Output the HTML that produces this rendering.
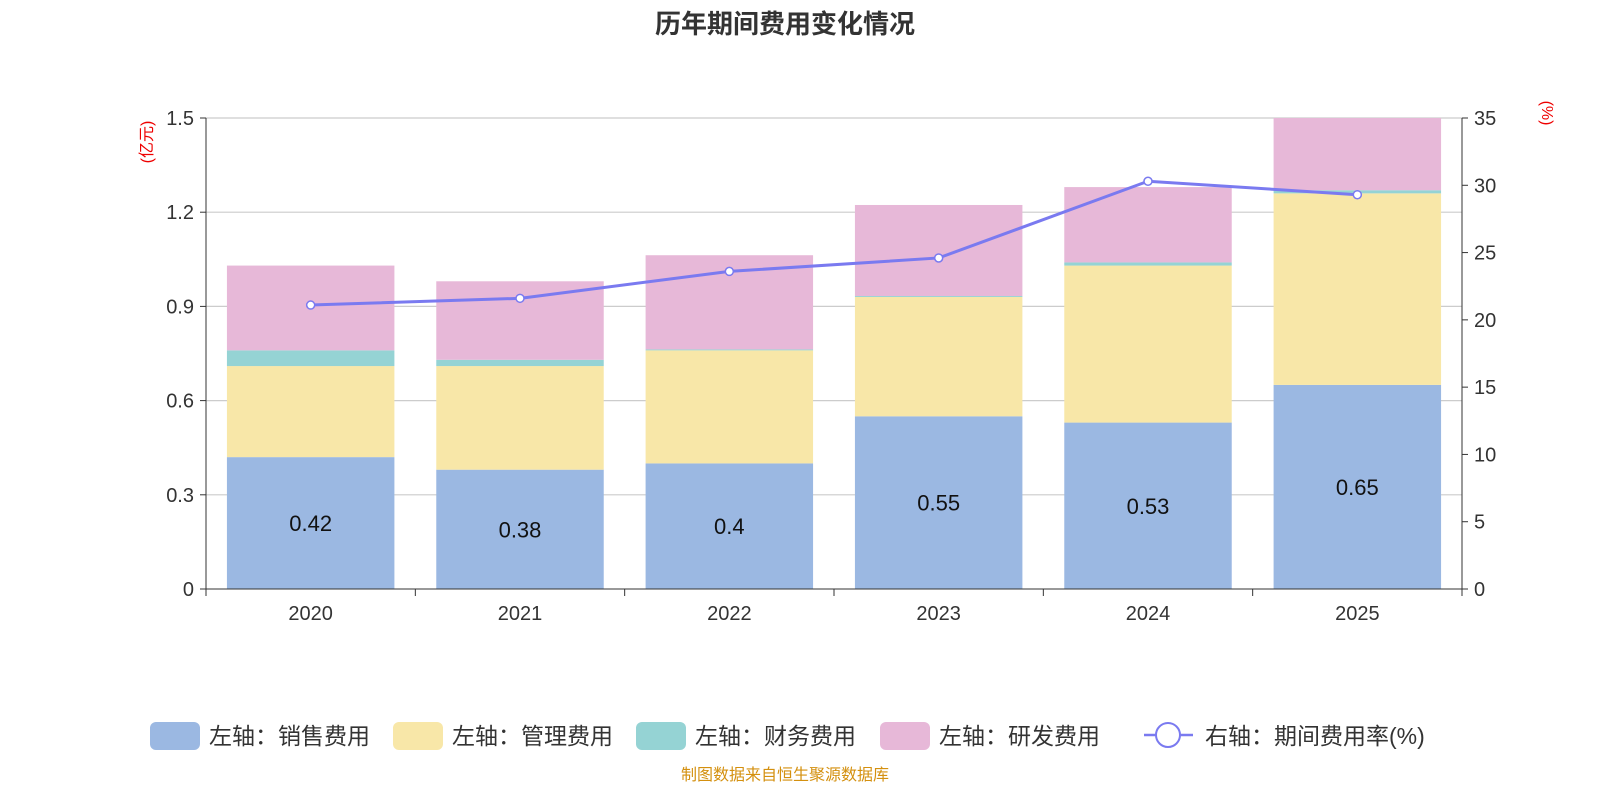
<!DOCTYPE html>
<html><head><meta charset="utf-8"><style>
body{margin:0;background:#fff;}
svg text{font-family:"Liberation Sans","Noto Sans CJK SC",sans-serif;}
</style></head><body>
<svg id="c" width="1600" height="800" xmlns="http://www.w3.org/2000/svg">
<text x="785" y="33" text-anchor="middle" font-size="26" font-weight="bold" fill="#333">历年期间费用变化情况</text>
<text transform="translate(152,142) rotate(-90)" text-anchor="middle" font-size="16" fill="#e00">(亿元)</text>
<text transform="translate(1542,113) rotate(90)" text-anchor="middle" font-size="16" fill="#e00">(%)</text>
<g id="grid"></g><g id="bars"></g><g id="axes"></g><g id="line"></g>
<g id="legend"></g>
<text x="785" y="780" text-anchor="middle" font-size="16" fill="#d4900f">制图数据来自恒生聚源数据库</text>
</svg>
<script>
const categories=['2020','2021','2022','2023','2024','2025'];
const sales=[0.42,0.38,0.40,0.55,0.53,0.65];
const mgmt=[0.29,0.33,0.36,0.38,0.50,0.61];
const fin=[0.05,0.02,0.003,0.003,0.01,0.01];
const rnd=[0.27,0.25,0.30,0.29,0.24,0.23];
const rate=[21.1,21.6,23.6,24.6,30.3,29.3];
const leftTicks=['0','0.3','0.6','0.9','1.2','1.5'];
const rightTicks=['0','5','10','15','20','25','30','35'];
const seriesNames=['左轴：销售费用','左轴：管理费用','左轴：财务费用','左轴：研发费用'];
const colors=['#9bb8e2','#f8e7a8','#95d3d4','#e7b8d8'];
const NS='http://www.w3.org/2000/svg';
const X0=206,X1=1462,Y0=589,Y1=118;
const bw=(X1-X0)/categories.length;
const yL=v=>Y0-(v/1.5)*(Y0-Y1);
const yR=v=>Y0-(v/35)*(Y0-Y1);
const xc=i=>X0+bw*(i+0.5);
function mk(t,a,p){const e=document.createElementNS(NS,t);for(const k in a)e.setAttribute(k,a[k]);p.appendChild(e);return e;}
const grid=document.getElementById('grid'),axes=document.getElementById('axes'),bars=document.getElementById('bars'),line=document.getElementById('line'),leg=document.getElementById('legend');
leftTicks.forEach(t=>{const y=yL(+t);
 if(+t>0){const g=mk('line',{x1:X0,x2:X1,y1:y,y2:y,stroke:'#ccc','stroke-width':1.2},grid);}
 mk('line',{x1:X0-6,x2:X0,y1:y,y2:y,stroke:'#333'},axes);
 const tx=mk('text',{x:X0-12,y:y+7,'text-anchor':'end','font-size':20,fill:'#333'},axes);tx.textContent=t;
 });
rightTicks.forEach(t=>{const y=yR(+t);
 mk('line',{x1:X1,x2:X1+6,y1:y,y2:y,stroke:'#333'},axes);
 const tx=mk('text',{x:X1+12,y:y+7,'font-size':20,fill:'#333'},axes);tx.textContent=t;
 });
mk('line',{x1:X0,x2:X0,y1:Y1,y2:Y0,stroke:'#333'},axes);
mk('line',{x1:X1,x2:X1,y1:Y1,y2:Y0,stroke:'#333'},axes);
mk('line',{x1:X0,x2:X1,y1:Y0,y2:Y0,stroke:'#333'},axes);
for(let i=0;i<=categories.length;i++)mk('line',{x1:X0+bw*i,x2:X0+bw*i,y1:Y0,y2:Y0+7,stroke:'#333'},axes);
const stacks=[sales,mgmt,fin,rnd];
categories.forEach((c,i)=>{
 const tx=mk('text',{x:xc(i),y:620,'text-anchor':'middle','font-size':20,fill:'#333'},axes);tx.textContent=c;
 
 let base=0;
 stacks.forEach((s,k)=>{const r=mk('rect',{x:xc(i)-bw*0.4,width:bw*0.8,y:yL(base+s[i]),height:yL(base)-yL(base+s[i]),fill:colors[k]},bars);
  base+=s[i];});
 const lb=mk('text',{x:xc(i),y:(yL(0)+yL(sales[i]))/2+8,'text-anchor':'middle','font-size':22,fill:'#111'},bars);
 lb.textContent=String(sales[i]);
});
const pl=mk('polyline',{points:rate.map((v,i)=>xc(i)+','+yR(v)).join(' '),fill:'none',stroke:'#7a7af0','stroke-width':3},line);

rate.forEach((v,i)=>{const p=mk('circle',{cx:xc(i),cy:yR(v),r:4,fill:'#fff',stroke:'#7a7af0','stroke-width':1.5},line);
 });
const lx=[150,393,636,880];
seriesNames.forEach((n,k)=>{const r=mk('rect',{x:lx[k],y:722,width:50,height:28,rx:6,fill:colors[k]},leg);
 
 const t=mk('text',{x:lx[k]+59,y:744,'font-size':23,fill:'#333'},leg);t.textContent=n;
 });
mk('line',{x1:1144,x2:1193,y1:735,y2:735,stroke:'#7a7af0','stroke-width':2.5},leg);
mk('circle',{cx:1168,cy:735,r:12,fill:'#fff',stroke:'#7a7af0','stroke-width':2},leg);
const lt=mk('text',{x:1205,y:744,'font-size':23,fill:'#333'},leg);lt.textContent='右轴：期间费用率(%)';

</script>
</body></html>
